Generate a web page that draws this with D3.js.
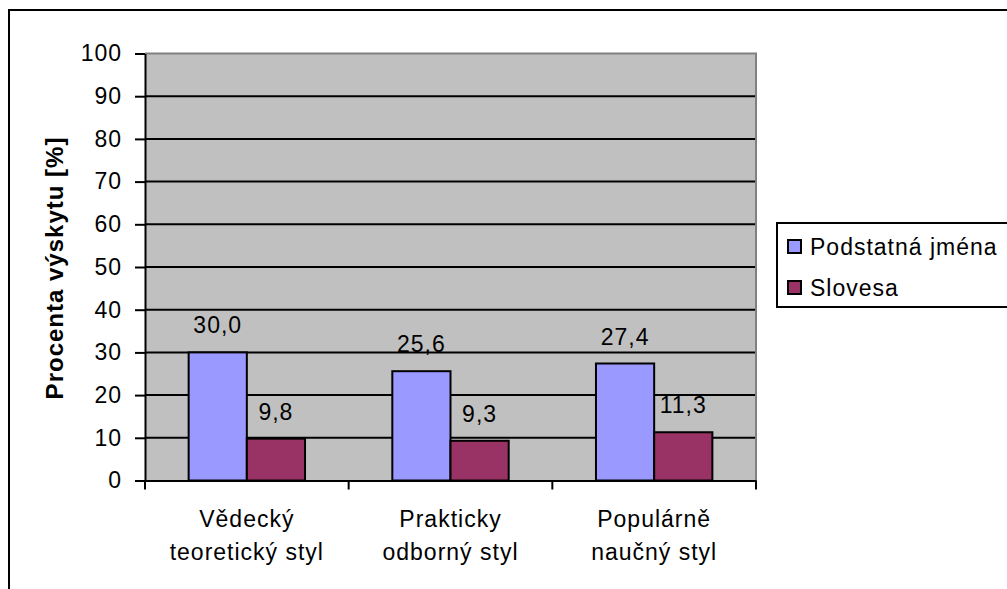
<!DOCTYPE html>
<html><head><meta charset="utf-8">
<script src="https://cdn.jsdelivr.net/npm/d3@7"></script>
<style>
body{margin:0;background:#fff;}
text{font-family:"Liberation Sans",Arial,sans-serif;fill:#000;}
</style></head>
<body>
<svg id="c" width="1007" height="589"></svg>
<script>
const categories = [["Vědecký","teoretický styl"],["Prakticky","odborný styl"],["Populárně","naučný styl"]];
const seriesNames = ["Podstatná jména","Slovesa"];
const nouns = [30.0, 25.6, 27.4];
const verbs = [9.8, 9.3, 11.3];
const yTicks = [0,10,20,30,40,50,60,70,80,90,100];
const colors = ["#9999FF","#993366"];
const yTitle = "Procenta výskytu [%]";

const svg = d3.select("#c");
const fs = "23px", ls = "1px";

// outer border
svg.append("rect").attr("x",9).attr("y",10).attr("width",1100).attr("height",700)
  .attr("fill","#fff").attr("stroke","#000").attr("stroke-width",2);

const L=145, R=756, T=53.5, B=480.5;
const y = d3.scaleLinear().domain([0,100]).range([B,T]);
const catKeys = categories.map((d,i)=>i);
const x0 = d3.scaleBand().domain(catKeys).range([L,R]).padding(0);
const bw = x0.step()/(2+1.5);
const x1 = d3.scaleBand().domain([0,1]).range([0,2*bw]).padding(0);
const off = (x0.step()-2*bw)/2;

// plot background
svg.append("rect").attr("x",L).attr("y",T).attr("width",R-L).attr("height",B-T).attr("fill","#C0C0C0");

// gridlines
svg.append("g").selectAll("line").data(yTicks.filter(d=>d>0&&d<100)).join("line")
  .attr("x1",L).attr("x2",R).attr("y1",d=>y(d)).attr("y2",d=>y(d))
  .attr("stroke","#000").attr("stroke-width",2);

// plot border top/right gray
svg.append("path").attr("d",`M${L},${T}H${R}V${B}`).attr("fill","none").attr("stroke","#808080").attr("stroke-width",2);

// bars
const data = [nouns, verbs];
const g = svg.append("g");
categories.forEach((c,ci)=>{
  data.forEach((s,si)=>{
    const bx = x0(ci)+off+x1(si);
    g.append("rect").attr("x",bx).attr("y",y(s[ci])).attr("width",x1.bandwidth()).attr("height",y(0)-y(s[ci]))
      .attr("fill",colors[si]).attr("stroke","#000").attr("stroke-width",2);
    g.append("text").attr("x",bx+x1.bandwidth()/2).attr("y",y(s[ci])-19)
      .attr("text-anchor","middle").style("font-size",fs).style("letter-spacing",ls)
      .text(d3.format(".1f")(s[ci]).replace(".",","));
  });
});

// y axis
const yAxis = d3.axisLeft(y).tickValues(yTicks).tickSize(10).tickSizeOuter(0).tickPadding(13);
const ya = svg.append("g").attr("transform",`translate(${L},0)`).call(yAxis);
ya.select(".domain").attr("stroke","#000").attr("stroke-width",2);
ya.selectAll(".tick line").attr("stroke","#000").attr("stroke-width",2);
ya.selectAll(".tick text").style("font-size",fs).style("letter-spacing",ls).attr("fill","#000").style("font-family",'"Liberation Sans",Arial,sans-serif');

// x axis
const xAxis = d3.axisBottom(x0).tickValues([]).tickSizeOuter(0);
const xa = svg.append("g").attr("transform",`translate(0,${B})`).call(xAxis);
xa.select(".domain").attr("stroke","#000").attr("stroke-width",2);
const bounds = [L, ...catKeys.map(k=>x0(k)+x0.step())];
xa.selectAll("line.tk").data(bounds).join("line").attr("class","tk")
  .attr("x1",d=>d).attr("x2",d=>d).attr("y1",0).attr("y2",9).attr("stroke","#000").attr("stroke-width",2);

// category labels
categories.forEach((c,ci)=>{
  const t = svg.append("text").attr("x",x0(ci)+x0.step()/2).attr("y",527)
    .attr("text-anchor","middle").style("font-size",fs).style("letter-spacing",ls);
  c.forEach((line,li)=>{
    t.append("tspan").attr("x",x0(ci)+x0.step()/2).attr("y",527+li*33).text(line);
  });
});

// y title
svg.append("text").attr("transform","translate(63,268) rotate(-90)").attr("text-anchor","middle")
  .style("font-size","24px").style("font-weight","bold").style("letter-spacing","1px").text(yTitle);

// legend
svg.append("rect").attr("x",777).attr("y",223).attr("width",300).attr("height",84)
  .attr("fill","#fff").attr("stroke","#000").attr("stroke-width",2);
seriesNames.forEach((n,i)=>{
  svg.append("rect").attr("x",788).attr("y",240+i*41).attr("width",13).attr("height",13)
    .attr("fill",colors[i]).attr("stroke","#000").attr("stroke-width",2);
  svg.append("text").attr("x",810).attr("y",255+i*41).style("font-size",fs).style("letter-spacing",ls).text(n);
});
</script>
</body></html>
